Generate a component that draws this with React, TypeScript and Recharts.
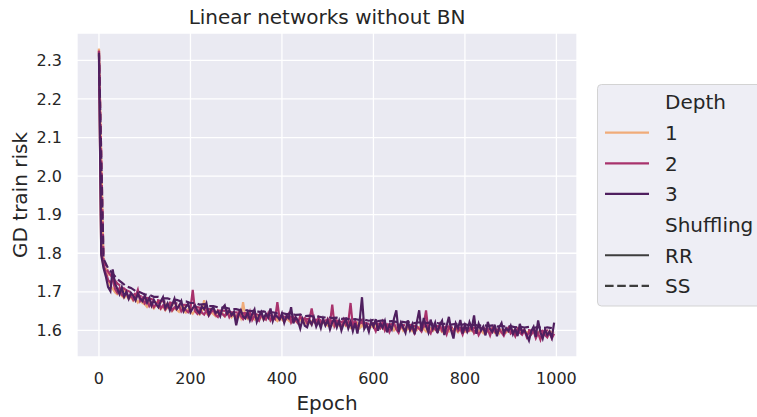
import { LineChart, Line, XAxis, YAxis, CartesianGrid } from "recharts";

// GD train risk per epoch, random reshuffling (RR) sampled every 5 epochs
const rrDepth1 = [
  2.330, 1.800, 1.766, 1.746, 1.727, 1.716, 1.708, 1.699, 1.694, 1.700, 1.689, 1.684, 1.691, 1.681, 1.686, 1.677, 1.683, 1.672, 1.679, 1.671,
  1.668, 1.661, 1.670, 1.664, 1.657, 1.666, 1.660, 1.655, 1.663, 1.652, 1.659, 1.661, 1.650, 1.657, 1.653, 1.648, 1.658, 1.651, 1.646, 1.655,
  1.649, 1.643, 1.652, 1.646, 1.641, 1.650, 1.678, 1.644, 1.639, 1.648, 1.642, 1.637, 1.651, 1.640, 1.645, 1.636, 1.643, 1.647, 1.634, 1.641,
  1.638, 1.644, 1.632, 1.673, 1.636, 1.630, 1.641, 1.633, 1.628, 1.639, 1.631, 1.636, 1.627, 1.634, 1.640, 1.626, 1.632, 1.629, 1.624, 1.635,
  1.628, 1.622, 1.633, 1.625, 1.620, 1.630, 1.624, 1.619, 1.628, 1.621, 1.617, 1.626, 1.620, 1.615, 1.629, 1.618, 1.623, 1.614, 1.621, 1.616,
  1.612, 1.622, 1.615, 1.610, 1.620, 1.613, 1.608, 1.618, 1.611, 1.616, 1.607, 1.614, 1.609, 1.619, 1.606, 1.612, 1.608, 1.615, 1.604, 1.611,
  1.607, 1.613, 1.603, 1.610, 1.606, 1.601, 1.611, 1.605, 1.609, 1.600, 1.607, 1.603, 1.612, 1.599, 1.606, 1.602, 1.609, 1.598, 1.605, 1.601,
  1.608, 1.600, 1.604, 1.597, 1.606, 1.601, 1.598, 1.607, 1.599, 1.603, 1.596, 1.605, 1.600, 1.597, 1.608, 1.598, 1.602, 1.595, 1.604, 1.599,
  1.596, 1.605, 1.598, 1.601, 1.594, 1.603, 1.597, 1.600, 1.593, 1.602, 1.596, 1.599, 1.606, 1.594, 1.600, 1.592, 1.601, 1.597, 1.594, 1.603,
  1.595, 1.599, 1.591, 1.600, 1.596, 1.593, 1.601, 1.594, 1.598, 1.590, 1.599, 1.595, 1.592, 1.600, 1.593, 1.597, 1.589, 1.598, 1.594, 1.596,
];

const rrDepth2 = [
  2.325, 1.805, 1.772, 1.750, 1.731, 1.724, 1.732, 1.708, 1.698, 1.710, 1.692, 1.687, 1.700, 1.684, 1.691, 1.679, 1.688, 1.705, 1.676, 1.684,
  1.670, 1.677, 1.663, 1.672, 1.660, 1.668, 1.675, 1.657, 1.665, 1.654, 1.662, 1.669, 1.652, 1.660, 1.655, 1.664, 1.649, 1.658, 1.653, 1.647,
  1.656, 1.705, 1.650, 1.643, 1.655, 1.646, 1.641, 1.652, 1.638, 1.647, 1.653, 1.640, 1.635, 1.648, 1.642, 1.637, 1.650, 1.634, 1.644, 1.639,
  1.632, 1.646, 1.637, 1.629, 1.642, 1.634, 1.649, 1.627, 1.638, 1.631, 1.625, 1.640, 1.633, 1.628, 1.644, 1.626, 1.636, 1.630, 1.673, 1.629,
  1.637, 1.624, 1.631, 1.643, 1.621, 1.634, 1.627, 1.619, 1.638, 1.625, 1.632, 1.618, 1.629, 1.657, 1.623, 1.616, 1.633, 1.620, 1.627, 1.614,
  1.630, 1.619, 1.667, 1.612, 1.625, 1.617, 1.608, 1.628, 1.614, 1.621, 1.671, 1.610, 1.624, 1.606, 1.618, 1.627, 1.609, 1.615, 1.603, 1.620,
  1.611, 1.598, 1.616, 1.606, 1.622, 1.600, 1.613, 1.596, 1.609, 1.619, 1.603, 1.594, 1.612, 1.605, 1.599, 1.617, 1.601, 1.608, 1.593, 1.610,
  1.604, 1.597, 1.614, 1.652, 1.600, 1.592, 1.611, 1.603, 1.596, 1.615, 1.599, 1.606, 1.590, 1.609, 1.601, 1.595, 1.612, 1.598, 1.604, 1.589,
  1.607, 1.596, 1.601, 1.611, 1.593, 1.604, 1.588, 1.599, 1.608, 1.594, 1.602, 1.587, 1.606, 1.597, 1.591, 1.603, 1.595, 1.586, 1.600, 1.607,
  1.592, 1.598, 1.585, 1.604, 1.594, 1.589, 1.601, 1.583, 1.596, 1.590, 1.599, 1.580, 1.593, 1.576, 1.597, 1.588, 1.582, 1.595, 1.579, 1.591,
];

const rrDepth3 = [
  2.315, 1.795, 1.762, 1.740, 1.712, 1.702, 1.758, 1.722, 1.708, 1.694, 1.712, 1.688, 1.700, 1.682, 1.697, 1.690, 1.678, 1.695, 1.683, 1.676,
  1.690, 1.672, 1.684, 1.664, 1.679, 1.668, 1.660, 1.675, 1.686, 1.658, 1.670, 1.652, 1.667, 1.682, 1.656, 1.663, 1.676, 1.650, 1.661, 1.669,
  1.647, 1.658, 1.665, 1.651, 1.644, 1.662, 1.655, 1.670, 1.641, 1.653, 1.660, 1.645, 1.649, 1.637, 1.658, 1.665, 1.643, 1.652, 1.639, 1.648,
  1.613, 1.640, 1.652, 1.636, 1.631, 1.647, 1.626, 1.642, 1.654, 1.622, 1.638, 1.648, 1.629, 1.643, 1.633, 1.657, 1.624, 1.640, 1.635, 1.628,
  1.644, 1.620, 1.638, 1.631, 1.660, 1.618, 1.634, 1.625, 1.605, 1.629, 1.612, 1.608, 1.627, 1.615, 1.633, 1.610, 1.624, 1.606, 1.630, 1.613,
  1.626, 1.603, 1.621, 1.630, 1.608, 1.625, 1.600, 1.618, 1.628, 1.605, 1.622, 1.598, 1.619, 1.592, 1.626, 1.686, 1.604, 1.615, 1.597, 1.623,
  1.610, 1.629, 1.599, 1.618, 1.607, 1.624, 1.595, 1.614, 1.603, 1.631, 1.652, 1.596, 1.620, 1.608, 1.594, 1.626, 1.601, 1.616, 1.590, 1.622,
  1.652, 1.598, 1.632, 1.611, 1.595, 1.628, 1.604, 1.620, 1.593, 1.615, 1.625, 1.588, 1.612, 1.635, 1.600, 1.579, 1.618, 1.606, 1.627, 1.592,
  1.614, 1.598, 1.621, 1.605, 1.639, 1.591, 1.617, 1.600, 1.610, 1.587, 1.622, 1.603, 1.596, 1.615, 1.585, 1.608, 1.619, 1.593, 1.606, 1.598,
  1.612, 1.590, 1.604, 1.585, 1.617, 1.594, 1.601, 1.588, 1.574, 1.598, 1.609, 1.583, 1.626, 1.595, 1.579, 1.602, 1.588, 1.597, 1.581, 1.620,
];

// single shuffling (SS) sampled every 10 epochs
const ssDepth1 = [
  2.330, 1.776, 1.748, 1.731, 1.717, 1.708, 1.699, 1.694, 1.688, 1.684,
  1.680, 1.678, 1.674, 1.673, 1.670, 1.669, 1.666, 1.665, 1.662, 1.661,
  1.658, 1.657, 1.654, 1.654, 1.650, 1.650, 1.647, 1.646, 1.645, 1.642,
  1.642, 1.639, 1.640, 1.637, 1.638, 1.635, 1.636, 1.633, 1.634, 1.631,
  1.632, 1.629, 1.630, 1.627, 1.628, 1.624, 1.625, 1.622, 1.623, 1.620,
  1.622, 1.619, 1.620, 1.617, 1.618, 1.615, 1.616, 1.614, 1.615, 1.612,
  1.614, 1.611, 1.613, 1.610, 1.611, 1.609, 1.610, 1.608, 1.609, 1.606,
  1.608, 1.605, 1.607, 1.604, 1.606, 1.603, 1.605, 1.602, 1.604, 1.601,
  1.603, 1.600, 1.602, 1.599, 1.601, 1.598, 1.600, 1.597, 1.599, 1.596,
  1.598, 1.595, 1.597, 1.594, 1.596, 1.593, 1.596, 1.592, 1.595, 1.593,
];

const ssDepth2 = [
  2.325, 1.780, 1.752, 1.736, 1.722, 1.713, 1.704, 1.699, 1.693, 1.689,
  1.685, 1.683, 1.679, 1.678, 1.675, 1.674, 1.671, 1.670, 1.667, 1.666,
  1.663, 1.662, 1.659, 1.659, 1.655, 1.655, 1.652, 1.651, 1.650, 1.647,
  1.647, 1.644, 1.645, 1.642, 1.643, 1.640, 1.641, 1.638, 1.639, 1.636,
  1.637, 1.634, 1.635, 1.632, 1.633, 1.629, 1.630, 1.627, 1.628, 1.625,
  1.627, 1.624, 1.625, 1.622, 1.623, 1.620, 1.621, 1.619, 1.620, 1.617,
  1.619, 1.616, 1.618, 1.615, 1.616, 1.614, 1.615, 1.613, 1.614, 1.611,
  1.613, 1.610, 1.612, 1.609, 1.611, 1.608, 1.610, 1.607, 1.609, 1.606,
  1.608, 1.605, 1.607, 1.604, 1.606, 1.603, 1.605, 1.602, 1.604, 1.601,
  1.603, 1.600, 1.602, 1.599, 1.601, 1.598, 1.601, 1.597, 1.600, 1.598,
];

const ssDepth3 = [
  2.320, 1.786, 1.761, 1.747, 1.733, 1.724, 1.714, 1.710, 1.702, 1.699,
  1.693, 1.692, 1.687, 1.687, 1.683, 1.683, 1.679, 1.679, 1.675, 1.675,
  1.671, 1.671, 1.667, 1.668, 1.663, 1.663, 1.660, 1.659, 1.658, 1.655,
  1.655, 1.652, 1.653, 1.650, 1.651, 1.648, 1.649, 1.646, 1.647, 1.644,
  1.645, 1.642, 1.643, 1.640, 1.641, 1.637, 1.638, 1.635, 1.636, 1.633,
  1.635, 1.632, 1.633, 1.630, 1.631, 1.628, 1.629, 1.627, 1.628, 1.625,
  1.627, 1.624, 1.626, 1.623, 1.624, 1.622, 1.623, 1.621, 1.622, 1.619,
  1.621, 1.618, 1.620, 1.617, 1.619, 1.616, 1.618, 1.615, 1.617, 1.614,
  1.616, 1.613, 1.615, 1.612, 1.614, 1.611, 1.613, 1.610, 1.612, 1.609,
  1.611, 1.608, 1.610, 1.607, 1.609, 1.606, 1.609, 1.605, 1.608, 1.606,
];

const xTicks = [0, 200, 400, 600, 800, 1000];
const yTicks = [1.6, 1.7, 1.8, 1.9, 2.0, 2.1, 2.2, 2.3];

const depthColors = { 1: "#f0ab79", 2: "#a8326c", 3: "#4f1f5f" };
const FONT = "'DejaVu Sans', sans-serif";
const INK = "#262626";

const toPoints = (values: number[], step: number) =>
  values.map((v, i) => ({ epoch: i * step, risk: v }));

const series = [
  { key: "rr1", depth: 1, dashed: false, data: toPoints(rrDepth1, 5) },
  { key: "ss1", depth: 1, dashed: true, data: toPoints(ssDepth1, 10) },
  { key: "rr2", depth: 2, dashed: false, data: toPoints(rrDepth2, 5) },
  { key: "ss2", depth: 2, dashed: true, data: toPoints(ssDepth2, 10) },
  { key: "rr3", depth: 3, dashed: false, data: toPoints(rrDepth3, 5) },
  { key: "ss3", depth: 3, dashed: true, data: toPoints(ssDepth3, 10) },
];

const legendRows = [
  { label: "Depth", header: true },
  { label: "1", color: depthColors[1] },
  { label: "2", color: depthColors[2] },
  { label: "3", color: depthColors[3] },
  { label: "Shuffling", header: true },
  { label: "RR", color: "#3d3d3d" },
  { label: "SS", color: "#3d3d3d", dashed: true },
];

export default function App() {
  return (
    <div style={{ position: "absolute", left: 0, top: 0, width: 757, height: 417, background: "#fff" }}>
      <LineChart
        width={757}
        height={417}
        margin={{ top: 33, right: 180, bottom: 0, left: 0 }}
      >
        <CartesianGrid fill="#eaeaf2" stroke="#ffffff" strokeWidth={1.3} />
        <XAxis
          dataKey="epoch"
          type="number"
          domain={[-48, 1045]}
          ticks={xTicks}
          allowDataOverflow
          height={60}
          axisLine={false}
          tickLine={false}
          tickSize={0}
          tickMargin={16}
          tick={{ fill: INK, fontSize: 16, fontFamily: FONT }}
        />
        <YAxis
          dataKey="risk"
          type="number"
          domain={[1.531, 2.371]}
          ticks={yTicks}
          allowDataOverflow
          width={77}
          axisLine={false}
          tickLine={false}
          tickSize={0}
          tickMargin={15}
          tickFormatter={(v: number) => v.toFixed(1)}
          tick={{ fill: INK, fontSize: 16, fontFamily: FONT }}
        />
        {series.map((s) => (
          <Line
            key={s.key}
            data={s.data}
            dataKey="risk"
            type="linear"
            stroke={depthColors[s.depth as 1 | 2 | 3]}
            strokeWidth={2.2}
            strokeDasharray={s.dashed ? "8.6 3.6" : undefined}
            dot={false}
            activeDot={false}
            isAnimationActive={false}
          />
        ))}
      </LineChart>

      <svg
        width={757}
        height={417}
        style={{ position: "absolute", left: 0, top: 0, pointerEvents: "none" }}
        fontFamily={FONT}
        fill={INK}
      >
        <text x={327} y={24} fontSize={20} textAnchor="middle">
          Linear networks without BN
        </text>
        <text x={327} y={410} fontSize={20} textAnchor="middle">
          Epoch
        </text>
        <text x={27} y={195} fontSize={20} textAnchor="middle" transform="rotate(-90 27 195)">
          GD train risk
        </text>

        <rect x={597.5} y={84.5} width={175} height={221.5} rx={4} fill="#eeeef5" stroke="#d3d3d3" />
        {legendRows.map((row, i) => {
          const base = 109.3 + i * 30.65;
          return (
            <g key={row.label}>
              {!row.header && (
                <line
                  x1={605}
                  x2={649}
                  y1={base - 7.3}
                  y2={base - 7.3}
                  stroke={row.color}
                  strokeWidth={2.2}
                  strokeDasharray={row.dashed ? "8.6 3.6" : undefined}
                />
              )}
              <text x={665} y={base} fontSize={20}>
                {row.label}
              </text>
            </g>
          );
        })}
      </svg>
    </div>
  );
}
